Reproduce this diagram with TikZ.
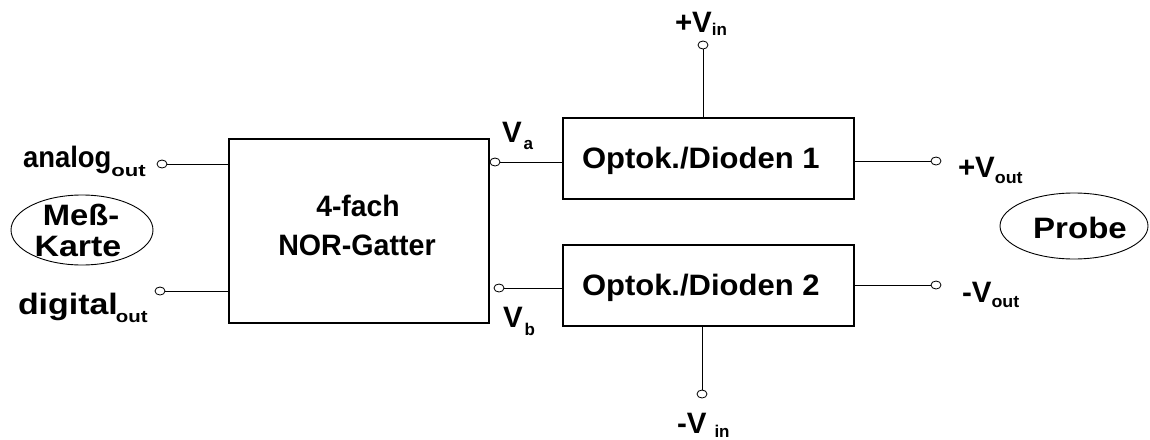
\documentclass[tikz,border=0pt]{standalone}
\usepackage{fontspec}
\setmainfont{Liberation Sans}
\usetikzlibrary{shapes.geometric}
% \lowsub[drop]{xscale}{text}
\newcommand{\lowsub}[3][7pt]{\raisebox{-#1}{\scalebox{#2}[1]{\fontsize{17}{17}\selectfont #3}}}
\newcommand{\wide}[2]{\scalebox{#1}[1]{#2}}
\tikzset{
  lbl/.style={font=\fontsize{29.5}{34}\selectfont\bfseries, inner sep=0pt, outer sep=0pt},
  boxnode/.style={draw, line width=1.1pt, rectangle, inner sep=0pt},
  term/.style={draw, ellipse, line width=0.8pt, minimum width=10pt, minimum height=8pt, inner sep=0pt},
  wire/.style={line width=0.9pt},
  oval/.style={draw, ellipse, line width=0.9pt, inner sep=0pt}
}
\begin{document}
\begin{tikzpicture}[x=1pt,y=-1pt]
\path[use as bounding box] (0,0) rectangle (1150,439);
% boxes
\node[boxnode, minimum width=260pt, minimum height=184pt] (nor) at (359,231) {};
\node[boxnode, minimum width=291pt, minimum height=81pt] (b1) at (708.5,158.5) {};
\node[boxnode, minimum width=291pt, minimum height=81pt] (b2) at (708.5,285.5) {};
% ovals
\node[oval, minimum width=142pt, minimum height=70pt] (mk) at (82,230) {};
\node[oval, minimum width=148pt, minimum height=66pt] (pr) at (1074,226) {};
% box texts
\node[lbl, anchor=base] (t4) at (358,216) {\wide{0.96}{4-fach}};
\node[lbl, anchor=base] (tnor) at (357,255) {\wide{0.97}{NOR-Gatter}};
\node[lbl, anchor=base west] (to1) at (582,168) {\wide{1.05}{Optok./Dioden 1}};
\node[lbl, anchor=base west] (to2) at (582,295) {\wide{1.05}{Optok./Dioden 2}};
\node[lbl, anchor=base] (tmes) at (81,225) {\wide{1.11}{Meß-}};
\node[lbl, anchor=base] (tkar) at (78,256) {\wide{1.15}{Karte}};
\node[lbl, anchor=base] (tpro) at (1080,238) {\wide{1.12}{Probe}};
% terminals
\node[term] (ta) at (162,164) {};
\node[term] (td) at (160,291) {};
\node[term] (tva) at (495,162) {};
\node[term] (tvb) at (499,288) {};
\node[term] (tpo) at (936,161) {};
\node[term] (tmo) at (936,285) {};
\node[term] (tpi) at (703,45) {};
\node[term] (tmi) at (702,394) {};
% terminal labels
\node[lbl, anchor=base west] (la) at (23,167) {\wide{0.93}{analog}\lowsub[9pt]{1.3}{out}};
\node[lbl, anchor=base west] (ld) at (18,314) {\wide{1.15}{digital}\hspace{-2pt}\lowsub[8pt]{1.2}{out}};
\node[lbl, anchor=base west] (lva) at (502,142) {V\hspace{2pt}\lowsub[7pt]{1}{a}};
\node[lbl, anchor=base west] (lvb) at (503,327) {V\hspace{2pt}\lowsub[8pt]{1}{b}};
\node[lbl, anchor=base west] (lpi) at (675,32) {+V\lowsub[3pt]{1}{in}};
\node[lbl, anchor=base west] (lmi) at (677,433) {-V\hspace{8pt}\lowsub[4pt]{1}{in}};
\node[lbl, anchor=base west] (lpo) at (958,177) {+V\lowsub[6pt]{1.05}{out}};
\node[lbl, anchor=base west] (lmo) at (962,302) {-V\lowsub[5pt]{1.05}{out}};
% wires
\draw[wire] (ta.east) -- (ta -| nor.west);
\draw[wire] (td.east) -- (td -| nor.west);
\draw[wire] (tva.east) -- (tva -| b1.west);
\draw[wire] (tvb.east) -- (tvb -| b2.west);
\draw[wire] (tpo -| b1.east) -- (tpo.west);
\draw[wire] (tmo -| b2.east) -- (tmo.west);
\draw[wire] (tpi.south) -- (tpi |- b1.north);
\draw[wire] (tmi |- b2.south) -- (tmi.north);
\end{tikzpicture}
\end{document}
